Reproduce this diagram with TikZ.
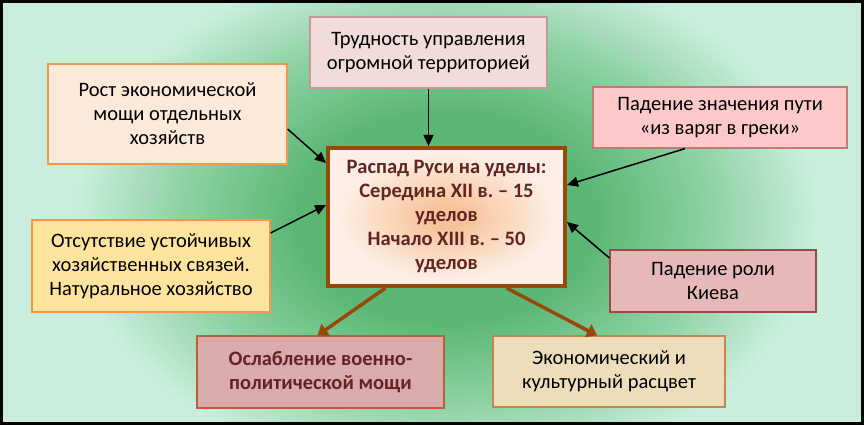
\documentclass[tikz,border=0pt]{standalone}
\usepackage{fontspec}
\setmainfont{Carlito}
\usetikzlibrary{arrows.meta}
\frenchspacing

\definecolor{glowin}{HTML}{5AB774}
\definecolor{glowmid}{HTML}{8FD2A4}
\definecolor{glowout}{HTML}{C9EEDC}
\definecolor{capcream}{HTML}{FDEFE5}
\definecolor{caporange}{HTML}{F8C39B}
\definecolor{capline}{HTML}{984807}
\definecolor{captext}{HTML}{632523}
\definecolor{orline}{HTML}{F79646}
\definecolor{pinkfill}{HTML}{F2DCDB}
\definecolor{pinkline}{HTML}{C39A9A}
\definecolor{peachfill}{HTML}{FDE9D9}
\definecolor{rosefill}{HTML}{FFC9C9}
\definecolor{roseline}{HTML}{C07A78}
\definecolor{kievfill}{HTML}{E6B9B8}
\definecolor{kievline}{HTML}{9A4A48}
\definecolor{yelfill}{HTML}{FEE39C}
\definecolor{oslfill}{HTML}{DBAAAB}
\definecolor{oslline}{HTML}{B8603E}
\definecolor{ekfill}{HTML}{EEDDBA}
\definecolor{ekline}{HTML}{C8844E}

\pgfdeclareradialshading{bgglow}{\pgfpoint{0bp}{0bp}}{color(0bp)=(glowin); color(10bp)=(glowin); color(18bp)=(glowmid); color(25bp)=(glowout); color(50bp)=(glowout)}
\pgfdeclareradialshading{capglow}{\pgfpoint{0bp}{0bp}}{color(0bp)=(caporange); color(4bp)=(caporange); color(23bp)=(capcream); color(50bp)=(capcream)}

\begin{document}
\begin{tikzpicture}[
  x=1pt, y=1pt,
  font=\fontsize{20.5}{24}\selectfont,
  box/.style={rectangle, draw, align=center, line width=1.2pt, inner sep=2pt},
  arr/.style={-{Triangle[length=11pt,width=10pt]}, line width=1.5pt},
  brarr/.style={-{Triangle[length=10pt,width=14pt]}, line width=3.5pt, draw=capline, color=capline}
]
% background
\fill[glowout] (0,0) rectangle (864,425);
\begin{scope}
  \clip (0,0) rectangle (864,425);
  \shade[shading=bgglow] (76,-52) rectangle (816,468);
\end{scope}
\draw[line width=3pt] (1.5,1.5) rectangle (862.5,423.5);

\node[draw=capline, line width=4pt, shade, shading=capglow, align=center,
      minimum width=237pt, minimum height=138pt, text=captext,
      font=\fontsize{20.5}{24}\selectfont\bfseries] (cent) at (446.5,208)
  {Распад Руси на уделы:\\Середина XII в. – 15\\уделов\\Начало XIII в. – 50\\уделов};

\node[box, draw=pinkline, fill=pinkfill, minimum width=237pt, minimum height=71pt] (trud) at (428.5,372.5)
  {Трудность управления\\огромной территорией};
\node[box, draw=orline, fill=peachfill, minimum width=239pt, minimum height=100pt] (rost) at (167.5,311)
  {Рост экономической\\мощи отдельных\\хозяйств};
\node[box, draw=roseline, fill=rosefill, minimum width=254pt, minimum height=61pt] (puti) at (720,307.5)
  {Падение значения пути\\«из варяг в греки»};
\node[box, draw=kievline, fill=kievfill, minimum width=206pt, minimum height=62pt] (kiev) at (713,144)
  {Падение роли\\Киева};
\node[box, draw=orline, fill=yelfill, minimum width=238pt, minimum height=92pt] (otsut) at (151,159)
  {Отсутствие устойчивых\\хозяйственных связей.\\Натуральное хозяйство};
\node[box, draw=oslline, fill=oslfill, minimum width=247pt, minimum height=72pt, text=captext,
      font=\fontsize{20.5}{24}\selectfont\bfseries] (oslab) at (320.5,53)
  {Ослабление военно-\\политической мощи};
\node[box, draw=ekline, fill=ekfill, minimum width=232pt, minimum height=71pt] (ekon) at (609,53.5)
  {Экономический и\\культурный расцвет};

\draw[arr] (trud.south) -- (trud.south |- cent.north);
\draw[arr] ([yshift=-15pt]rost.east) -- ([yshift=54pt]cent.west);
\draw[arr] ([yshift=33pt]otsut.east) -- ([yshift=12pt]cent.west);
\draw[arr] ([xshift=-35pt]puti.south) -- ([yshift=32pt]cent.east);
\draw[arr] ([yshift=23pt]kiev.west) -- ([yshift=-5pt]cent.east);
\draw[brarr] ([xshift=-61pt]cent.south) -- ([xshift=-3pt]oslab.north);
\draw[brarr] ([xshift=60pt]cent.south) -- ([xshift=-12pt]ekon.north);
\end{tikzpicture}
\end{document}
